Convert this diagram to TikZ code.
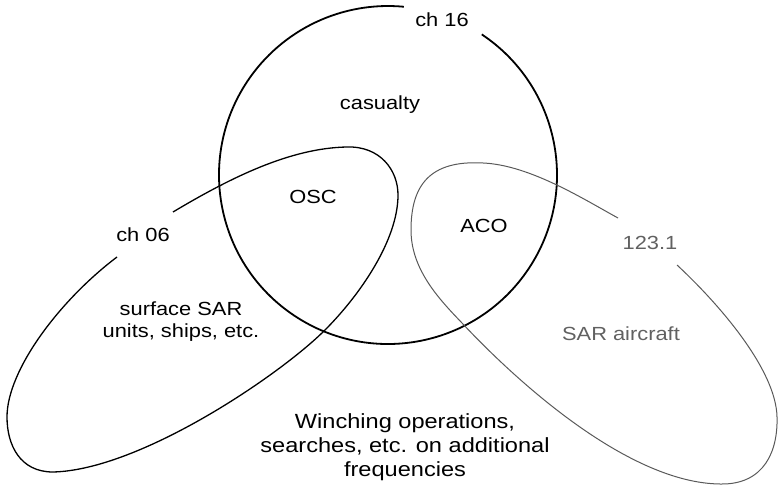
\documentclass[tikz,border=0pt]{standalone}
\usepackage{fontspec}
\setmainfont[FakeStretch=1.15]{Liberation Sans}
\begin{document}
\begin{tikzpicture}[x=1pt,y=-1pt,
  lbl/.style={font=\fontsize{19}{22}\selectfont, inner sep=0pt, align=center},
  lblgrey/.style={lbl, text=black!62},
  bigl/.style={font=\fontsize{20.5}{24}\selectfont, inner sep=0pt, align=center},
  circ/.style={line width=1.8pt, black},
  lshape/.style={line width=1.3pt, black},
  rshape/.style={line width=1pt, black!65}]
\useasboundingbox (0,0) rectangle (783,486);
% casualty circle (gap at top for ch 16)
\draw[circ] (388,175) ++(-56.3:169) arc[start angle=-56.3, end angle=275.4, radius=169];
% surface units loop
\draw[lshape] (173,212) .. controls (230,178) and (290,148) .. (347,147)
  .. controls (380,146) and (398,170) .. (398,195)
  .. controls (398,240) and (360,295) .. (325,330)
  .. controls (280,375) and (140,470) .. (53,472)
  .. controls (20,472) and (7,445) .. (7,417)
  .. controls (7,370) and (60,300) .. (117,257);
% aircraft loop
\draw[rshape] (618,218) .. controls (585,200) and (530,165) .. (483,163)
  .. controls (430,160) and (411,185) .. (411,230)
  .. controls (411,270) and (440,300) .. (462,323)
  .. controls (520,385) and (630,483) .. (720,484)
  .. controls (765,485) and (778,450) .. (777,417)
  .. controls (776,370) and (720,305) .. (677,265);
% labels
\node[lbl] (ch16) at (442,20) {ch 16};
\node[lbl] (cas) at (380,105) {casualty};
\node[lbl] (osc) at (313,197) {OSC};
\node[lbl] (aco) at (484,226) {ACO};
\node[lbl] (ch06) at (143,235) {ch 06};
\node[lblgrey] (f123) at (650,243) {123.1};
\node[lblgrey] (sara) at (621,334) {SAR aircraft};
\node[lbl] (surf) at (181,322) {surface SAR\\units, ships, etc.};
\node[bigl] (winch) at (405,447) {Winching operations,\\searches, etc. on additional\\frequencies};
\end{tikzpicture}
\end{document}
